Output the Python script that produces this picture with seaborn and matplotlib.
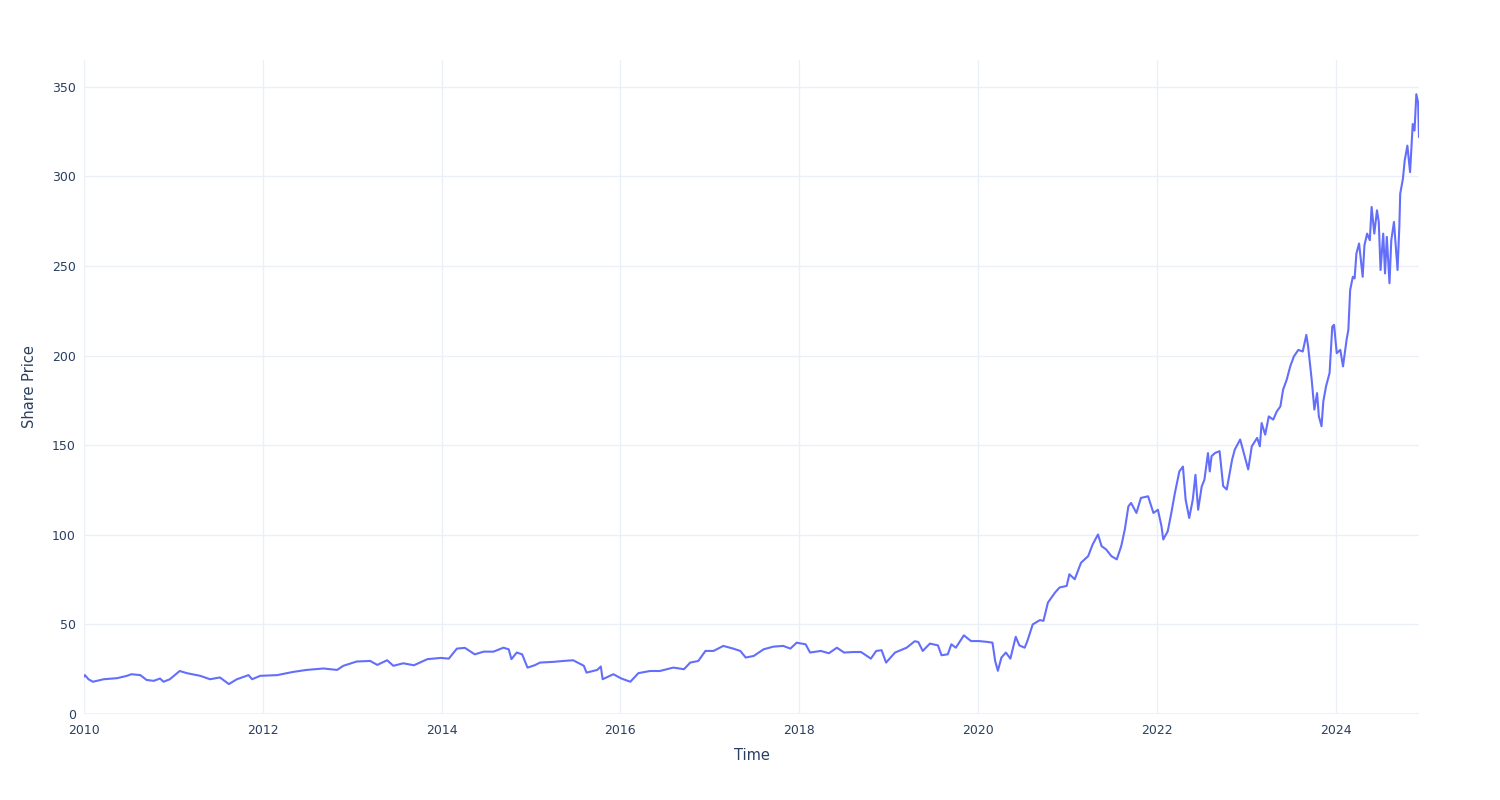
import numpy as np
import pandas as pd
import matplotlib
matplotlib.use("Agg")
import matplotlib.pyplot as plt
import matplotlib.dates as mdates
import seaborn as sns

# Time in fractional years
years = [
    2010.00, 2010.01, 2010.05, 2010.10, 2010.22, 2010.37, 2010.48, 2010.53, 2010.63, 2010.70,
    2010.78, 2010.85, 2010.89, 2010.96, 2011.07, 2011.15, 2011.30, 2011.41, 2011.52, 2011.62,
    2011.71, 2011.84, 2011.88, 2011.97, 2012.16, 2012.34, 2012.49, 2012.68, 2012.83, 2012.90,
    2013.05, 2013.20, 2013.28, 2013.39, 2013.46, 2013.57, 2013.69, 2013.84, 2013.99, 2014.08,
    2014.17, 2014.26, 2014.37, 2014.47, 2014.58, 2014.69, 2014.75, 2014.78, 2014.84, 2014.90,
    2014.96, 2015.04, 2015.10, 2015.25, 2015.36, 2015.47, 2015.59, 2015.62, 2015.74, 2015.78,
    2015.80, 2015.92, 2016.01, 2016.11, 2016.20, 2016.33, 2016.44, 2016.52, 2016.59, 2016.71,
    2016.78, 2016.87, 2016.95, 2017.04, 2017.15, 2017.26, 2017.34, 2017.40, 2017.49, 2017.60,
    2017.71, 2017.82, 2017.90, 2017.97, 2018.07, 2018.12, 2018.24, 2018.33, 2018.42, 2018.50,
    2018.61, 2018.69, 2018.80, 2018.86, 2018.92, 2018.97, 2019.07, 2019.20, 2019.29, 2019.33,
    2019.38, 2019.46, 2019.55, 2019.59, 2019.66, 2019.70, 2019.75, 2019.84, 2019.92, 2020.01,
    2020.11, 2020.16, 2020.19, 2020.22, 2020.26, 2020.31, 2020.36, 2020.42, 2020.46, 2020.52,
    2020.55, 2020.61, 2020.69, 2020.73, 2020.78, 2020.86, 2020.91, 2020.99, 2021.02, 2021.08,
    2021.15, 2021.23, 2021.28, 2021.34, 2021.38, 2021.43, 2021.49, 2021.55, 2021.60, 2021.64,
    2021.68, 2021.71, 2021.77, 2021.82, 2021.90, 2021.96, 2022.01, 2022.05, 2022.07, 2022.12,
    2022.16, 2022.20, 2022.25, 2022.29, 2022.32, 2022.36, 2022.40, 2022.43, 2022.46, 2022.50,
    2022.53, 2022.57, 2022.59, 2022.61, 2022.65, 2022.70, 2022.74, 2022.78, 2022.84, 2022.87,
    2022.93, 2022.97, 2023.02, 2023.06, 2023.12, 2023.15, 2023.17, 2023.21, 2023.25, 2023.30,
    2023.34, 2023.38, 2023.41, 2023.45, 2023.49, 2023.53, 2023.58, 2023.63, 2023.67, 2023.69,
    2023.73, 2023.76, 2023.79, 2023.81, 2023.84, 2023.86, 2023.89, 2023.93, 2023.96, 2023.98,
    2024.01, 2024.05, 2024.08, 2024.12, 2024.14, 2024.16, 2024.19, 2024.21, 2024.23, 2024.26,
    2024.30, 2024.32, 2024.35, 2024.38, 2024.40, 2024.43, 2024.46, 2024.48, 2024.50, 2024.53,
    2024.55, 2024.57, 2024.60, 2024.62, 2024.65, 2024.69, 2024.71, 2024.72, 2024.75, 2024.77,
    2024.80, 2024.83, 2024.86, 2024.88, 2024.90, 2024.92, 2024.93,
]

prices = [
    20.9, 21.7, 19.4, 18.0, 19.4, 20.0, 21.3, 22.2, 21.7, 19.0,
    18.5, 19.8, 18.0, 19.4, 24.0, 22.8, 21.3, 19.4, 20.4, 16.7,
    19.4, 21.7, 19.4, 21.3, 21.7, 23.5, 24.6, 25.4, 24.6, 26.9,
    29.3, 29.6, 27.4, 30.0, 26.9, 28.3, 27.2, 30.6, 31.3, 30.9,
    36.5, 36.9, 33.3, 34.8, 34.8, 37.0, 36.1, 30.6, 34.3, 33.3,
    25.9, 27.2, 28.7, 29.1, 29.6, 30.0, 26.9, 23.1, 24.6, 26.5,
    19.4, 22.2, 19.8, 18.0, 22.8, 24.0, 24.0, 25.0, 25.9, 25.0,
    28.7, 29.6, 35.2, 35.2, 38.0, 36.5, 35.2, 31.5, 32.4, 36.1,
    37.6, 38.0, 36.5, 39.8, 38.9, 34.3, 35.2, 33.9, 37.0, 34.3,
    34.6, 34.6, 30.9, 35.2, 35.6, 28.7, 34.3, 37.0, 40.6, 40.2,
    35.2, 39.3, 38.3, 32.8, 33.3, 38.9, 37.0, 43.9, 40.7, 40.7,
    40.2, 39.8, 29.6, 24.1, 31.5, 34.3, 30.9, 43.1, 38.3, 37.0,
    40.7, 50.0, 52.4, 52.0, 62.2, 67.8, 70.6, 71.5, 78.0, 75.2,
    84.4, 88.1, 94.6, 100.2, 93.7, 91.9, 88.1, 86.3, 93.7, 103.0,
    115.9, 117.8, 112.2, 120.6, 121.5, 112.2, 114.0, 104.8, 97.4, 102.0,
    112.2, 123.3, 135.4, 138.1, 119.6, 109.4, 119.6, 133.5, 114.0, 127.0,
    130.7, 145.6, 135.4, 143.9, 145.7, 146.7, 127.2, 125.3, 142.0, 147.6,
    153.2, 145.7, 136.5, 149.4, 154.1, 149.4, 162.4, 155.9, 166.1, 164.3,
    168.9, 171.7, 181.0, 186.5, 194.0, 199.5, 203.2, 202.3, 211.6, 205.1,
    186.5, 169.9, 179.1, 166.1, 160.6, 174.5, 182.8, 190.3, 216.2, 217.2,
    201.4, 203.2, 194.0, 208.8, 214.4, 236.6, 244.0, 243.1, 257.0, 262.6,
    244.0, 261.7, 268.1, 264.4, 283.0, 268.1, 281.1, 274.6, 247.8, 268.1,
    245.9, 266.3, 240.4, 264.4, 274.6, 247.8, 271.9, 290.4, 298.7, 308.9,
    317.2, 302.4, 329.3, 325.6, 345.9, 341.3, 321.9,
]

x_tick_years = [2010, 2012, 2014, 2016, 2018, 2020, 2022, 2024]
y_ticks = [0, 50, 100, 150, 200, 250, 300, 350]
x_title = "Time"
y_title = "Share Price"

start = pd.Timestamp("2010-01-01")
dates = [start + pd.Timedelta(days=(y - 2010.0) * 365.25) for y in years]
df = pd.DataFrame({"Time": dates, "Share Price": prices})

sns.set_theme(style="white")
plt.rcParams["font.family"] = ["DejaVu Sans"]

text_color = "#2a3f5f"
grid_color = "#ebf0f8"
line_color = "#636efa"

fig = plt.figure(figsize=(15, 8), dpi=100)
ax = fig.add_axes([84 / 1500, 1 - 714 / 800, (1419 - 84) / 1500, (714 - 60) / 800])

sns.lineplot(data=df, x="Time", y="Share Price", ax=ax, color=line_color,
             linewidth=1.5, zorder=3)

ax.set_xlim(start, dates[-1])
ax.set_ylim(0, 365)

ax.set_xticks([pd.Timestamp(f"{y}-01-01") for y in x_tick_years])
ax.set_xticklabels([str(y) for y in x_tick_years])
ax.set_yticks(y_ticks)
ax.set_yticklabels([str(v) for v in y_ticks])

ax.grid(True, color=grid_color, linewidth=1, zorder=0)
ax.axhline(0, color=grid_color, linewidth=2, zorder=1)
for s in ax.spines.values():
    s.set_visible(False)

ax.tick_params(axis="both", length=0, labelsize=9, labelcolor=text_color)
ax.tick_params(axis="x", pad=7)
ax.tick_params(axis="y", pad=6)

ax.set_xlabel(x_title, fontsize=10.5, color=text_color, labelpad=8)
ax.set_ylabel(y_title, fontsize=10.5, color=text_color, labelpad=11)

fig.savefig("out.png", dpi=100, facecolor="white")
